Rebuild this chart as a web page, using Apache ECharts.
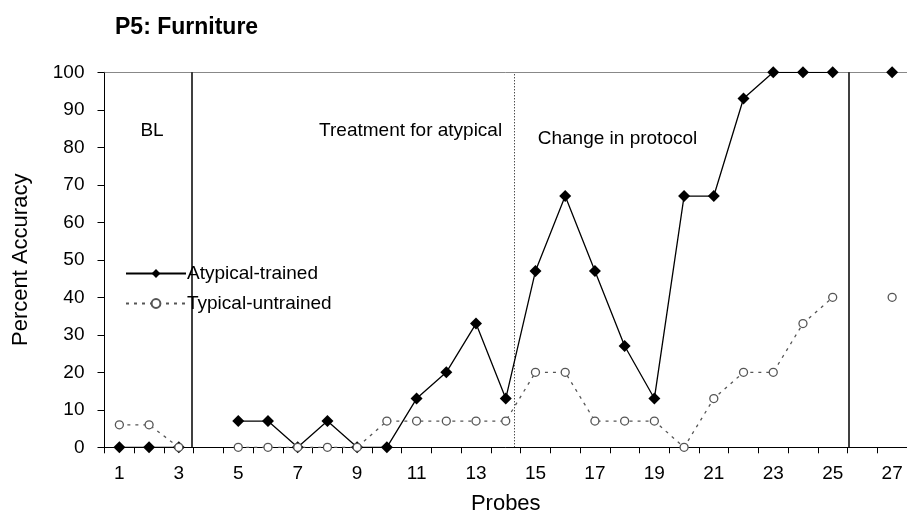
<!DOCTYPE html>
<html>
<head>
<meta charset="utf-8">
<script src="https://cdn.jsdelivr.net/npm/echarts@6/dist/echarts.min.js"></script>
<style>
html,body{margin:0;padding:0;background:#fff;}
#chart{width:907px;height:517px;}
</style>
</head>
<body>
<div id="chart"></div>
<script>
const probes = ['1','2','3','4','5','6','7','8','9','10','11','12','13','14','15','16','17','18','19','20','21','22','23','24','25','26','27'];
const atypicalTrained = [0,0,0,null,7,7,0,7,0,0,13,20,33,13,47,67,47,27,13,67,67,93,100,100,100,null,100];
const typicalUntrained = [6,6,0,null,0,0,0,0,0,7,7,7,7,7,20,20,7,7,7,0,13,20,20,33,40,null,40];
const yTicks = {min:0, max:100, interval:10};
const phaseLines = [
  {x:3.42, type:'solid'},
  {x:14.28, type:'dotted'},
  {x:25.54, type:'solid'}
];
const phaseLabels = [
  {name:'BL', x:2.1, y:84.3},
  {name:'Treatment for atypical', x:10.8, y:84.3},
  {name:'Change in protocol', x:17.76, y:82.2}
];

const FONT = "'Liberation Sans', Arial, Helvetica, sans-serif";
const chart = echarts.init(document.getElementById('chart'));
chart.setOption({
  backgroundColor:'#fff',
  animation:false,
  textStyle:{fontFamily:FONT},
  title:{
    text:'P5: Furniture', left:110, top:11,
    textStyle:{fontFamily:FONT, fontSize:23, fontWeight:'bold', color:'#000'}
  },
  legend:{
    orient:'vertical', left:120, top:259,
    itemWidth:60, itemHeight:11, itemGap:11,
    data:['Atypical-trained','Typical-untrained'],
    textStyle:{fontFamily:FONT, fontSize:19, color:'#000', padding:[0,0,0,-4]}
  },
  grid:{left:104.5, right:0, top:72.3, bottom:69.7, containLabel:false, outerBoundsMode:'none'},
  xAxis:[{
    type:'category', data:probes, boundaryGap:true, position:'bottom',
    name:'Probes', nameLocation:'middle', nameGap:46,
    nameTextStyle:{fontFamily:FONT, fontSize:22, color:'#000'},
    axisLine:{lineStyle:{color:'#000', width:1}},
    axisTick:{show:true, interval:0, length:6, lineStyle:{color:'#000'}},
    axisLabel:{interval:1, fontSize:19, color:'#000', margin:17, fontFamily:FONT},
    splitLine:{show:false}
  },{
    type:'value', min:0.5, max:27.5, position:'top',
    axisLine:{show:true, onZero:false, lineStyle:{color:'#888', width:1}},
    axisTick:{show:false}, axisLabel:{show:false}, splitLine:{show:false}
  }],
  yAxis:{
    type:'value', min:yTicks.min, max:yTicks.max, interval:yTicks.interval,
    name:'Percent Accuracy', nameLocation:'middle', nameGap:73, nameRotate:90,
    nameTextStyle:{fontFamily:FONT, fontSize:22, color:'#000'},
    axisLine:{show:true, lineStyle:{color:'#000', width:1}},
    axisTick:{show:true, length:7, lineStyle:{color:'#000'}},
    axisLabel:{fontSize:19, color:'#000', margin:20, fontFamily:FONT},
    splitLine:{show:false}
  },
  series:[{
    name:'Atypical-trained', type:'line', data:atypicalTrained,
    connectNulls:false,
    symbol:'diamond', symbolSize:12,
    itemStyle:{color:'#000'},
    lineStyle:{color:'#000', width:1.3}
  },{
    name:'Typical-untrained', type:'line', data:typicalUntrained,
    connectNulls:false,
    symbol:'circle', symbolSize:8,
    itemStyle:{color:'#fff', borderColor:'#555', borderWidth:1.3},
    lineStyle:{color:'#555', width:1.3, type:[3,5]}
  },{
    name:'phases', type:'scatter', xAxisIndex:1, data:[], silent:true,
    markLine:{
      silent:true, symbol:['none','none'], label:{show:false},
      data: phaseLines.map(p => ({xAxis:p.x, lineStyle:{color:'#000', width:p.type==='solid'?1.5:1, type:p.type==='solid'?'solid':[1,2]}}))
    },
    markPoint:{
      silent:true, symbolSize:0,
      label:{show:true, position:'inside', formatter:'{b}', fontSize:19, color:'#000', fontFamily:FONT},
      data: phaseLabels.map(p => ({name:p.name, coord:[p.x, p.y]}))
    }
  }]
});
</script>
</body>
</html>
